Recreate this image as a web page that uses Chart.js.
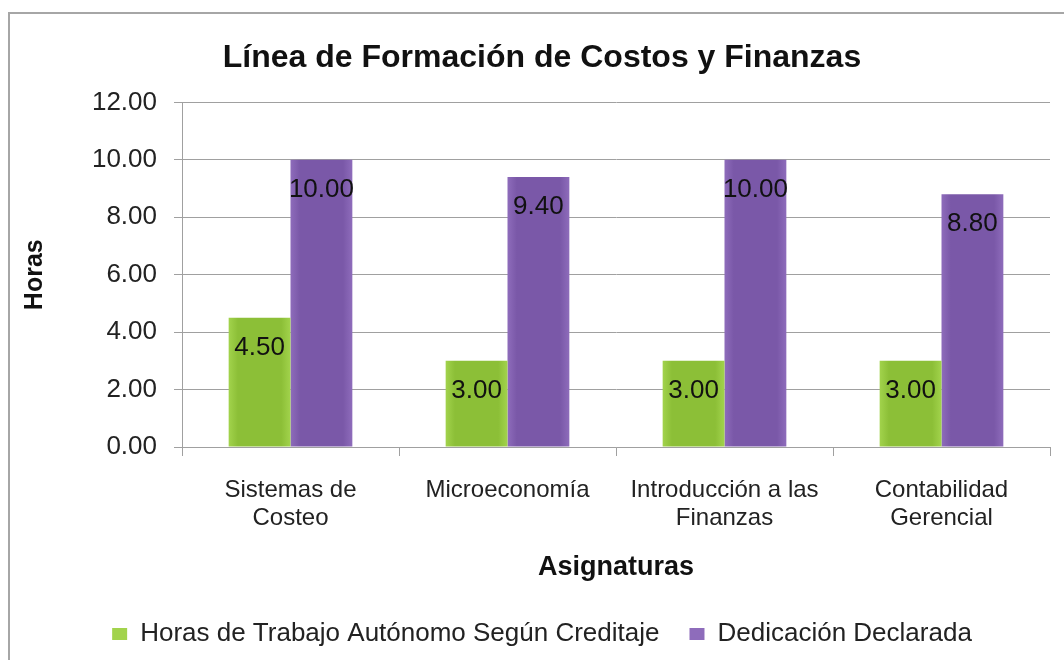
<!DOCTYPE html>
<html>
<head>
<meta charset="utf-8">
<script src="https://cdn.jsdelivr.net/npm/chart.js@4/dist/chart.umd.min.js"></script>
<style>
  body { margin: 0; background: #fff; overflow: hidden; }
  #frame { position: absolute; left: 8px; top: 12px; width: 1100px; height: 700px;
           border-left: 2px solid #a6a6a6; border-top: 2px solid #a6a6a6; }
  #wrap { position: absolute; left: 0; top: 0; width: 1064px; height: 660px; }
</style>
</head>
<body>
<div id="frame"></div>
<div id="wrap"><canvas id="chart"></canvas></div>
<script>
const subjects = [["Sistemas de", "Costeo"], "Microeconomía", ["Introducción a las", "Finanzas"], ["Contabilidad", "Gerencial"]];
const autonomousHours = [4.5, 3, 3, 3];
const declaredHours = [10, 9.4, 10, 8.8];
const seriesNames = ["Horas de Trabajo Autónomo Según Creditaje", "Dedicación Declarada"];

const FONT = "'Liberation Sans', Arial, sans-serif";
const GROUP = 0.57;

// horizontal shading across each bar, built from the x scale
function barGradient(c, light, dark) {
    const chart = c.chart;
    const xs = chart.scales && chart.scales.x;
    if (!xs || !xs.width || c.dataIndex === undefined) return dark;
    const center = xs.getPixelForValue(c.dataIndex);
    const half = xs.width / chart.data.labels.length * GROUP / 2;
    const x0 = c.datasetIndex === 0 ? center - half : center;
    const g = chart.ctx.createLinearGradient(x0, 0, x0 + half, 0);
    g.addColorStop(0, light);
    g.addColorStop(0.15, dark);
    g.addColorStop(0.85, dark);
    g.addColorStop(1, light);
    return g;
}

// value labels a little below the top of each bar
const valueLabels = {
    id: 'valueLabels',
    afterDatasetsDraw(chart) {
        const ctx = chart.ctx;
        ctx.save();
        ctx.font = "26px " + FONT;
        ctx.fillStyle = "#111";
        ctx.textAlign = "center";
        ctx.textBaseline = "middle";
        chart.data.datasets.forEach((ds, i) => {
            chart.getDatasetMeta(i).data.forEach((bar, j) => {
                ctx.fillText(ds.data[j].toFixed(2), bar.x, bar.y + 30);
            });
        });
        ctx.restore();
    }
};

new Chart(document.getElementById("chart"), {
    type: 'bar',
    data: {
        labels: subjects,
        datasets: [{
            label: seriesNames[0],
            data: autonomousHours,
            backgroundColor: (c) => barGradient(c, '#a2d34c', '#8cbf37'),
            borderWidth: 0
        }, {
            label: seriesNames[1],
            data: declaredHours,
            backgroundColor: (c) => barGradient(c, '#8e6cbb', '#7a58a8'),
            borderWidth: 0
        }]
    },
    options: {
        responsive: true,
        maintainAspectRatio: false,
        animation: false,
        categoryPercentage: GROUP,
        barPercentage: 1.0,
        layout: { padding: { left: 34, right: 14, top: 0, bottom: 3 } },
        scales: {
            x: {
                afterFit: (s) => { s.height = 144; },
                grid: { offset: true, drawOnChartArea: false, drawTicks: true, tickLength: 9, color: '#a0a0a0' },
                border: { color: '#a0a0a0', width: 1 },
                ticks: { color: '#222', font: { family: FONT, size: 24, lineHeight: 1.15 }, padding: 21, maxRotation: 0, autoSkip: false },
                title: { display: true, text: 'Asignaturas', color: '#111', font: { family: FONT, size: 27, weight: 'bold' }, padding: { top: 0, bottom: 7 } }
            },
            y: {
                min: 0, max: 12,
                afterFit: (s) => { s.width = 148; },
                ticks: { stepSize: 2, color: '#222', font: { family: FONT, size: 26 }, padding: 17, callback: (v) => v.toFixed(2) },
                grid: { color: '#a0a0a0', tickLength: 8, lineWidth: 1 },
                border: { color: '#a0a0a0', width: 1 },
                title: { display: true, text: 'Horas', color: '#111', font: { family: FONT, size: 25, weight: 'bold' }, padding: { top: -14, bottom: 0 } }
            }
        },
        plugins: {
            title: {
                display: true,
                text: 'Línea de Formación de Costos y Finanzas',
                color: '#111',
                font: { family: FONT, size: 32, weight: 'bold' },
                padding: { top: 39, bottom: 25 }
            },
            legend: {
                position: 'bottom',
                labels: { color: '#222', font: { family: FONT, size: 26 }, boxWidth: 15, boxHeight: 12, padding: 30 }
            },
            tooltip: { enabled: false }
        }
    },
    plugins: [valueLabels]
});
</script>
</body>
</html>
